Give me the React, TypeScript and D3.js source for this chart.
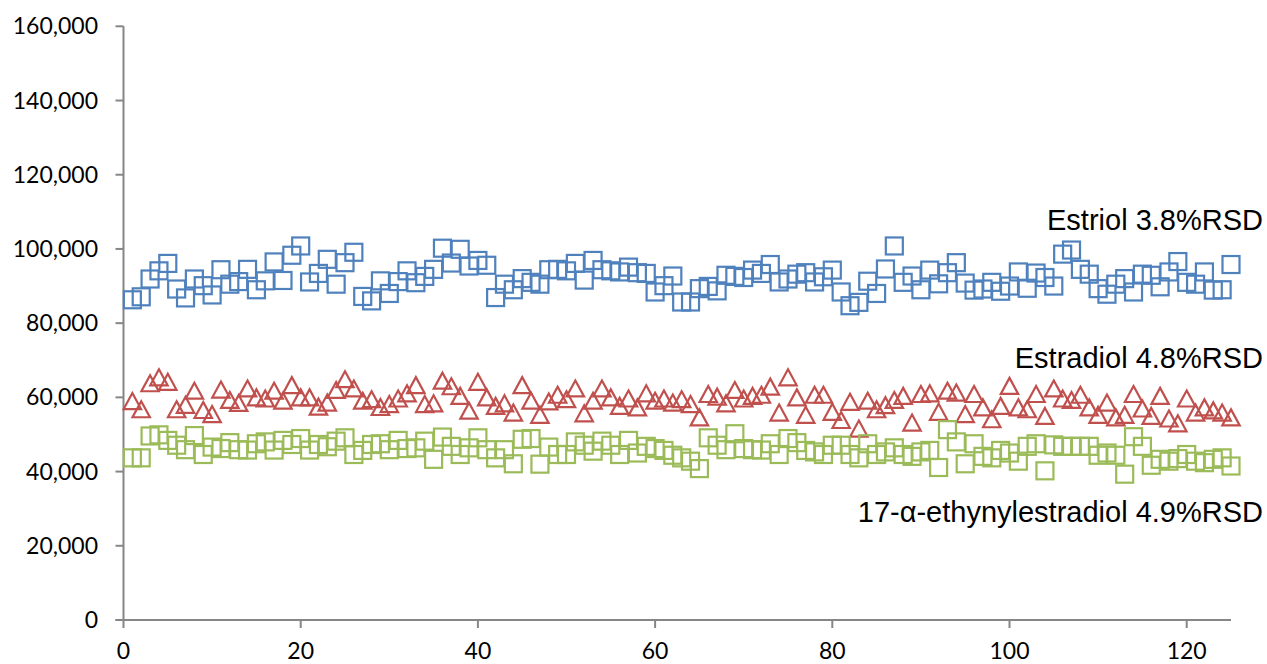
import React from "react";
import * as d3 from "d3";

const W = 1267;
const H = 664;

const estriol = [
  86.3, 87.1, 91.9, 94.1, 96.1, 89.2, 86.8, 91.9, 90.1, 87.6,
  94.4, 90.5, 91.2, 94.5, 89.0, 91.4, 96.5, 91.5, 98.3, 100.8,
  91.1, 93.4, 97.2, 90.5, 96.3, 99.1, 87.2, 86.0, 91.4, 88.0,
  91.2, 94.1, 90.9, 92.6, 94.5, 100.2, 96.2, 99.9, 95.4, 96.9,
  95.6, 86.9, 90.5, 89.0, 92.0, 91.0, 90.5, 94.4, 94.5, 94.1,
  96.1, 91.6, 96.9, 94.4, 94.1, 93.8, 95.1, 93.6, 93.4, 88.4,
  90.1, 92.7, 85.7, 85.7, 89.3, 89.9, 88.7, 92.9, 92.6, 92.3,
  94.3, 93.4, 95.8, 91.1, 91.9, 93.2, 93.6, 91.1, 92.5, 94.3,
  88.4, 84.7, 85.6, 91.3, 88.0, 94.6, 100.8, 91.0, 92.7, 89.0,
  94.3, 90.6, 93.6, 96.3, 90.8, 88.9, 89.2, 91.0, 88.6, 90.0,
  93.8, 89.4, 93.5, 92.3, 90.0, 98.6, 99.7, 94.5, 93.2, 89.3,
  87.8, 90.5, 92.0, 88.4, 93.2, 92.9, 89.8, 93.8, 96.6, 91.0,
  90.5, 93.8, 88.9, 89.0, 95.8,
];

const estradiol = [
  59.0, 56.8, 63.8, 65.4, 64.2, 56.8, 58.0, 61.8, 56.6, 55.5,
  62.1, 59.3, 58.5, 62.4, 60.0, 59.7, 61.8, 59.1, 63.3, 60.0,
  60.0, 57.5, 58.6, 62.0, 64.9, 62.4, 59.1, 59.5, 57.4, 58.2,
  59.7, 61.1, 63.3, 58.2, 58.4, 64.5, 63.0, 60.4, 56.4, 64.2,
  60.0, 57.7, 58.4, 55.9, 63.3, 59.1, 55.3, 58.9, 60.7, 59.5,
  62.4, 55.7, 59.1, 62.4, 60.0, 57.7, 59.7, 57.3, 61.1, 59.1,
  59.7, 58.6, 59.5, 58.2, 54.6, 60.9, 60.2, 58.4, 62.0, 59.7,
  60.4, 60.7, 62.9, 55.9, 65.4, 60.0, 55.3, 60.7, 60.7, 56.1,
  53.9, 58.8, 51.6, 59.1, 56.8, 57.9, 59.3, 60.4, 53.2, 60.9,
  61.1, 56.1, 61.8, 61.3, 55.5, 60.9, 57.3, 54.1, 57.7, 63.1,
  57.3, 56.8, 60.9, 55.0, 62.4, 59.7, 59.3, 60.7, 57.3, 55.3,
  58.6, 54.6, 55.3, 60.9, 57.0, 55.0, 60.4, 54.3, 53.0, 59.7,
  55.9, 57.3, 56.5, 55.9, 54.6,
];

const ethynyl = [
  43.7, 43.7, 49.6, 49.9, 48.4, 47.1, 45.9, 49.7, 44.6, 46.6,
  46.2, 47.8, 45.9, 45.8, 47.5, 48.0, 45.8, 48.4, 47.3, 48.9,
  45.8, 47.3, 46.7, 48.2, 49.1, 44.6, 45.7, 47.3, 47.5, 45.9,
  48.4, 46.2, 46.4, 48.2, 43.3, 49.3, 46.8, 44.6, 46.4, 49.1,
  45.9, 43.7, 45.9, 42.1, 48.7, 48.9, 42.0, 46.6, 44.6, 44.6,
  48.0, 47.1, 45.5, 48.2, 47.1, 44.6, 48.4, 45.0, 46.8, 46.2,
  45.7, 44.4, 43.7, 42.8, 40.8, 49.1, 47.1, 45.9, 50.2, 46.2,
  45.9, 45.8, 47.5, 44.6, 48.9, 47.8, 45.7, 45.3, 44.6, 47.1,
  47.1, 44.6, 43.7, 47.5, 44.6, 45.3, 46.4, 44.6, 44.1, 45.3,
  45.7, 41.1, 51.3, 48.0, 42.1, 47.5, 44.1, 43.7, 45.7, 45.0,
  42.8, 46.8, 47.5, 40.2, 47.2, 46.8, 46.8, 46.8, 46.8, 44.4,
  45.0, 44.4, 39.3, 49.4, 46.8, 41.7, 43.3, 42.8, 43.5, 44.6,
  42.8, 42.4, 43.3, 43.7, 41.5,
];

const yTicks = [0, 20000, 40000, 60000, 80000, 100000, 120000, 140000, 160000];
const xTicks = [0, 20, 40, 60, 80, 100, 120];

const labels = [
  "Estriol 3.8%RSD",
  "Estradiol 4.8%RSD",
  "17-α-ethynylestradiol 4.9%RSD",
];
const labelValues = [105000, 68000, 26500];

const colors = ["#4F81BD", "#C0504D", "#9BBB59"];

export default function App() {
  const x = d3.scaleLinear().domain([0, 125]).range([123.5, 1231]);
  const y = d3.scaleLinear().domain([0, 160000]).range([620, 26.3]);
  const fmt = d3.format(",");
  const axisColor = "#868686";
  const tickFont = "Lato, 'Open Sans', sans-serif";
  const labelFont = "'Liberation Sans', Arial, sans-serif";

  const sq = 17;
  const triPath = (cx: number, cy: number) => {
    const p = d3.path();
    p.moveTo(cx, cy - 8);
    p.lineTo(cx + 8.7, cy + 8);
    p.lineTo(cx - 8.7, cy + 8);
    p.closePath();
    return p.toString();
  };

  const toPts = (arr: number[]) => arr.map((v, i) => ({ xv: i + 1, yv: v * 1000 }));

  return (
    <svg
      width={W}
      height={H}
      style={{ position: "absolute", left: 0, top: 0, background: "#fff" }}
    >
      <rect x={0} y={0} width={W} height={H} fill="#fff" />
      {/* y axis */}
      <line x1={x(0)} x2={x(0)} y1={y(160000)} y2={y(0)} stroke={axisColor} strokeWidth={2} />
      {yTicks.map((t) => (
        <g key={"y" + t}>
          <line x1={x(0) - 8} x2={x(0)} y1={y(t)} y2={y(t)} stroke={axisColor} strokeWidth={2} />
          <text
            x={98}
            y={y(t)}
            dy="0.35em"
            textAnchor="end"
            fontFamily={tickFont}
            fontSize={23}
            fill="#000"
          >
            {fmt(t)}
          </text>
        </g>
      ))}
      {/* x axis */}
      <line x1={x(0) - 8} x2={x(125)} y1={y(0)} y2={y(0)} stroke={axisColor} strokeWidth={2} />
      {xTicks.map((t) => (
        <g key={"x" + t}>
          <line x1={x(t)} x2={x(t)} y1={y(0)} y2={y(0) + 8} stroke={axisColor} strokeWidth={2} />
          <text
            x={x(t)}
            y={659}
            textAnchor="middle"
            fontFamily={tickFont}
            fontSize={23}
            fill="#000"
          >
            {t}
          </text>
        </g>
      ))}
      {/* series */}
      <g>
        {toPts(estriol).map((d, i) => (
          <rect
            key={"b" + i}
            x={x(d.xv) - sq / 2}
            y={y(d.yv) - sq / 2}
            width={sq}
            height={sq}
            fill="none"
            stroke={colors[0]}
            strokeWidth={2.2}
          />
        ))}
      </g>
      <g>
        {toPts(estradiol).map((d, i) => (
          <path
            key={"r" + i}
            d={triPath(x(d.xv), y(d.yv))}
            fill="none"
            stroke={colors[1]}
            strokeWidth={2.2}
            strokeLinejoin="miter"
          />
        ))}
      </g>
      <g>
        {toPts(ethynyl).map((d, i) => (
          <rect
            key={"g" + i}
            x={x(d.xv) - sq / 2}
            y={y(d.yv) - sq / 2}
            width={sq}
            height={sq}
            fill="none"
            stroke={colors[2]}
            strokeWidth={2.2}
          />
        ))}
      </g>
      {/* labels */}
      {labels.map((l, i) => (
        <text
          key={l}
          x={1263}
          y={y(labelValues[i])}
          textAnchor="end"
          fontFamily={labelFont}
          fontSize={29}
          fill="#000"
        >
          {l}
        </text>
      ))}
    </svg>
  );
}
